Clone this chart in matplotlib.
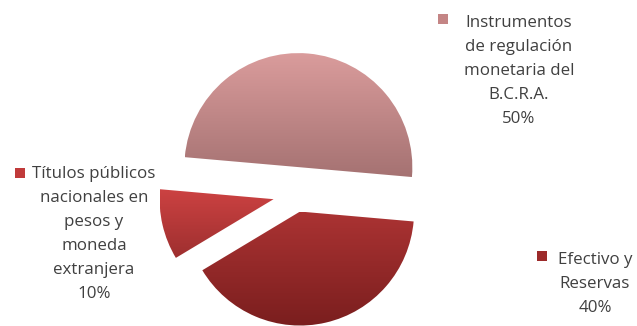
import matplotlib
matplotlib.use("Agg")
import matplotlib.pyplot as plt
import numpy as np
from matplotlib.colors import LinearSegmentedColormap
from matplotlib.patches import Rectangle

# data (order as drawn, counter-clockwise from the right)
labels = ["Instrumentos\nde regulación\nmonetaria del\nB.C.R.A.\n50%",
          "Títulos públicos\nnacionales en\npesos y\nmoneda\nextranjera\n10%",
          "Efectivo y\nReservas\n40%"]
shares = [50, 10, 40]

# top / bottom gradient colours per slice
top_colors = ["#da9c9c", "#cc4242", "#ab3333"]
bottom_colors = ["#a57272", "#9e2f2f", "#7a1e1e"]
marker_colors = ["#c48585", "#c03a3a", "#9c2a2a"]
explode = [27, 23, 18]  # offsets in px (radius is 115 px)

W, H = 637, 326
fig = plt.figure(figsize=(W / 100, H / 100), dpi=100)
ax = fig.add_axes([0, 0, 1, 1])

center = (296, H - 194)
wedges, _ = ax.pie(shares, startangle=-5, counterclock=True, explode=explode,
                   radius=114, center=center, frame=True)

for w, c1, c2 in zip(wedges, top_colors, bottom_colors):
    w.set_facecolor("none")
    w.set_edgecolor("none")
    x0, y0, x1, y1 = w.get_path().get_extents(w.get_patch_transform()).extents
    cmap = LinearSegmentedColormap.from_list("g", [c2, c1])
    grad = np.linspace(0, 1, 256).reshape(-1, 1)
    im = ax.imshow(grad, cmap=cmap, extent=[x0, x1, y0, y1], origin="lower",
                   aspect="auto", zorder=1)
    im.set_clip_path(w)

ax.set_xlim(0, W)
ax.set_ylim(0, H)
ax.set_aspect("equal")
ax.axis("off")

# label blocks: centre x, first baseline y (image px), marker position
label_pos = [(519, 27), (94, 178), (595, 264)]
marker_pos = [(438, 14), (15, 168), (537, 251)]
line_h = 24

for lab, (lx, ly), (mx, my), mc in zip(labels, label_pos, marker_pos,
                                       marker_colors):
    for i, line in enumerate(lab.split("\n")):
        ax.text(lx, H - ly - i * line_h, line, ha="center", va="baseline",
                fontsize=12.2, family="Open Sans", color="#404040")
    ax.add_patch(Rectangle((mx, H - my - 10), 10, 10, facecolor=mc,
                           edgecolor="none"))

fig.savefig("out.png", dpi=100)
